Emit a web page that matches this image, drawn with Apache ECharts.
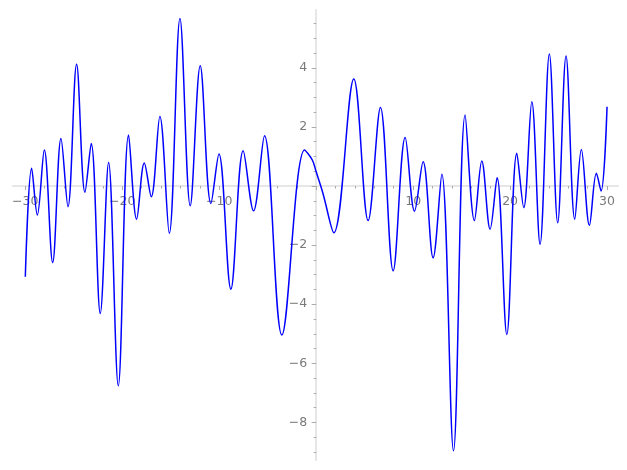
<!DOCTYPE html>
<html>
<head>
<meta charset="utf-8">
<script src="https://cdn.jsdelivr.net/npm/echarts@6/dist/echarts.min.js"></script>
<style>
html,body{margin:0;padding:0;background:#fff;}
#chart{width:627px;height:470px;}
</style>
</head>
<body>
<div id="chart"></div>
<script>
// Curve samples (extrema plus a few slope points)
const curveX = [-30, -29.35, -28.76, -28.04, -27.18, -26.32, -25.6, -24.71, -23.85, -23.2,
  -22.27, -21.41, -20.41, -19.35, -18.52, -17.73, -17.01, -16.12, -15.15, -14.05,
  -12.99, -11.96, -10.86, -10.03, -8.8, -7.53, -6.46, -5.33, -3.54, -1.2,
  -0.4, 0.0, 0.7, 1.82, 3.88, 5.36, 6.63, 7.94, 9.18, 10.14,
  11.03, 12.06, 12.96, 14.16, 15.36, 16.32, 17.08, 17.94, 18.66, 19.66,
  20.69, 21.41, 22.24, 23.09, 24.05, 24.91, 25.77, 26.67, 27.35, 28.18,
  28.9, 29.38, 30];
const curveY = [-3.07, 0.60, -0.98, 1.22, -2.59, 1.61, -0.70, 4.12, -0.21, 1.44,
  -4.31, 0.80, -6.76, 1.73, -1.12, 0.78, -0.36, 2.35, -1.60, 5.67,
  -0.67, 4.07, -0.59, 1.08, -3.49, 1.19, -0.84, 1.70, -5.04, 1.22,
  0.88, 0.48, -0.25, -1.58, 3.62, -1.17, 2.66, -2.87, 1.64, -0.85,
  0.82, -2.43, 0.40, -8.96, 2.40, -1.17, 0.85, -1.46, 0.28, -5.02,
  1.11, -0.73, 2.85, -1.97, 4.47, -1.24, 4.40, -1.12, 1.24, -1.33,
  0.43, -0.17, 2.68];

// Tick positions / labels
const xMajorTicks = [-30, -20, -10, 0, 10, 20, 30];
const xMinorTicks = [-28, -26, -24, -22, -18, -16, -14, -12, -8, -6, -4, -2, 2, 4, 6, 8, 12, 14, 16, 18, 22, 24, 26, 28];
const xTickLabels = [-30, -20, -10, 10, 20, 30];
const yMajorTicks = [-8, -6, -4, -2, 0, 2, 4];
const yMinorTicks = [-9, -8.5, -7.5, -7, -6.5, -5.5, -5, -4.5, -3.5, -3, -2.5, -1.5, -1, -0.5, 0.5, 1, 1.5, 2.5, 3, 3.5, 4.5, 5, 5.5];
const yTickLabels = [-8, -6, -4, -2, 2, 4];

const X_MIN = -31.27, X_MAX = 31.13, Y_MIN = -9.27, Y_MAX = 5.956;
const G = {left: 13, right: 9, top: 10, bottom: 10};
const W = 627, H = 470;

const fmt = v => (v < 0 ? '\u2212' + Math.abs(v) : String(v));
const labelStyle = {color: '#7a7a7a', fontFamily: 'DejaVu Sans', fontSize: 12.5};
const tickStyle = {color: '#aaaaaa', width: 1};

function buildOption(xOff, yOff) {
  const xa = (ticks, len, labels, line) => ({
    type: 'value', min: X_MIN, max: X_MAX, position: 'bottom', offset: xOff,
    axisLine: {show: line, onZero: false, lineStyle: {color: '#e6e6e6', width: 2}},
    axisTick: {show: true, customValues: ticks, length: len, lineStyle: tickStyle},
    axisLabel: labels ? {show: true, customValues: labels, formatter: fmt, margin: 9, ...labelStyle} : {show: false},
    splitLine: {show: false}
  });
  const ya = (ticks, len, labels, line) => ({
    type: 'value', min: Y_MIN, max: Y_MAX, position: 'left', offset: yOff,
    axisLine: {show: line, onZero: false, lineStyle: {color: '#e6e6e6', width: 2}},
    axisTick: {show: true, customValues: ticks, length: len, lineStyle: tickStyle},
    axisLabel: labels ? {show: true, customValues: labels, formatter: fmt, margin: 9, ...labelStyle} : {show: false},
    splitLine: {show: false}
  });
  return {
    animation: false,
    grid: {left: G.left, right: G.right, top: G.top, bottom: G.bottom, containLabel: false, outerBoundsMode: 'none'},
    xAxis: [xa(xMajorTicks, 4, xTickLabels, true), xa(xMinorTicks, 2.5, null, false)],
    yAxis: [ya(yMajorTicks, 4.5, yTickLabels, true), ya(yMinorTicks, 2.5, null, false)],
    series: [{
      type: 'line',
      xAxisIndex: 0, yAxisIndex: 0,
      data: curveX.map((x, i) => [x, curveY[i]]),
      showSymbol: false,
      smooth: 0.36,
      lineStyle: {color: '#0000ff', width: 1.5},
      z: 5
    }]
  };
}

const chart = echarts.init(document.getElementById('chart'), null, {renderer: 'canvas'});
chart.setOption(buildOption(0, 0));
// Move the axes so they cross at the data origin (as in the reference)
const origin = chart.convertToPixel({gridIndex: 0}, [0, 0]);
const yOff = -(origin[0] - G.left);
const xOff = -((H - G.bottom) - origin[1]);
chart.setOption(buildOption(xOff, yOff), true);
</script>
</body>
</html>
